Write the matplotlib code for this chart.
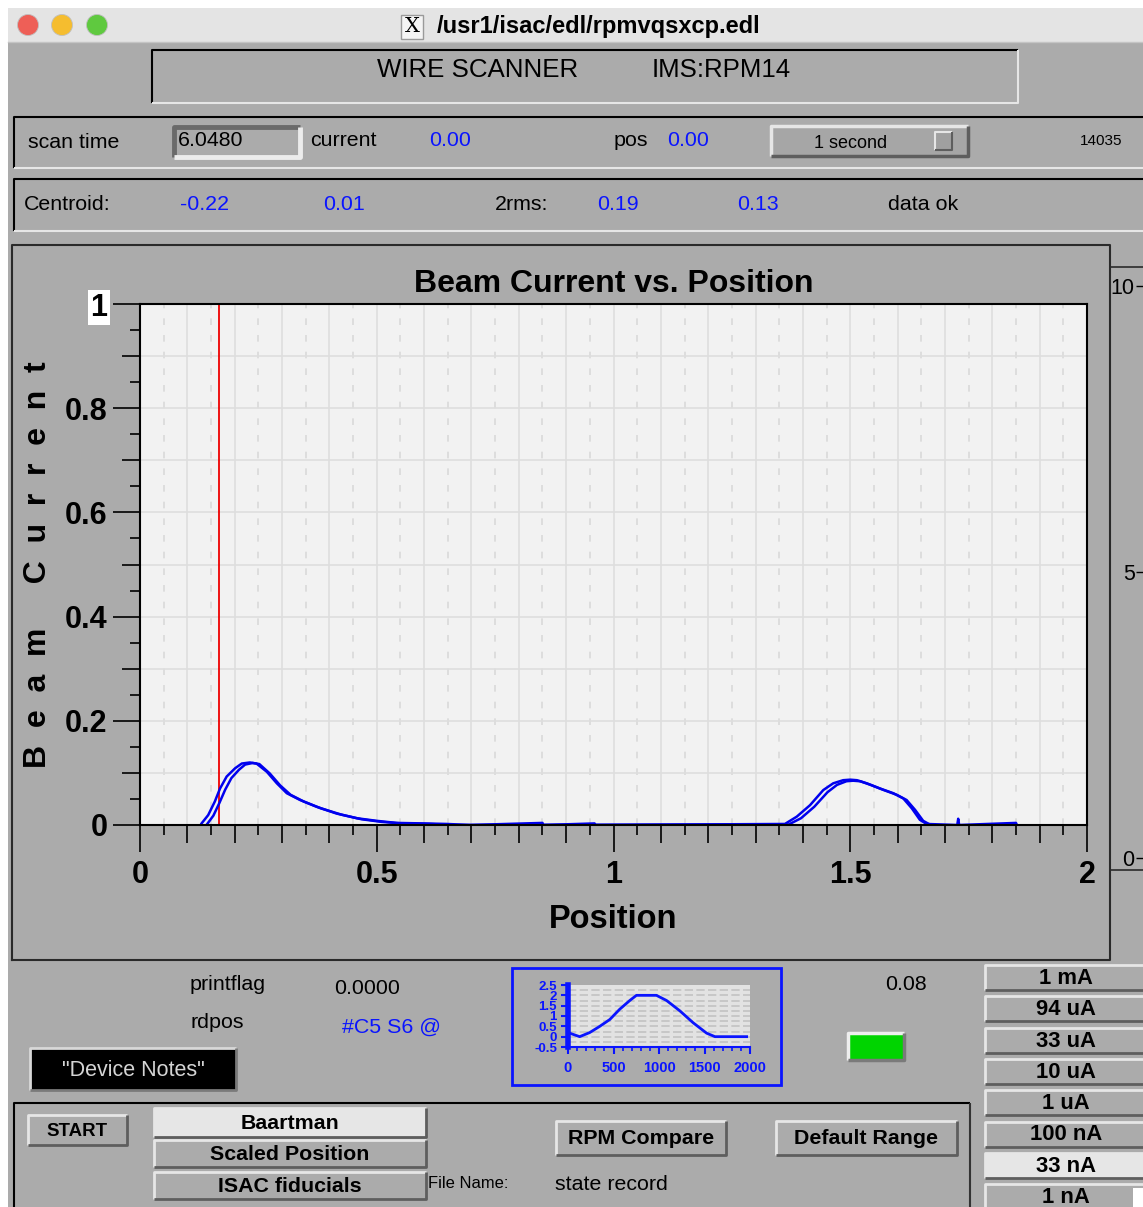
import matplotlib.pyplot as plt
import numpy as np
from matplotlib.patches import Rectangle, Circle

W, H = 1143, 1207

# wire scan: two passes of the wire over the beam (outbound / return)
scan_pos_a = [0.130, 0.144, 0.158, 0.169, 0.183, 0.201, 0.215, 0.232, 0.246, 0.268,
              0.289, 0.310, 0.338, 0.373, 0.415, 0.458, 0.500, 0.542, 0.600, 0.648,
              0.697, 0.850, 0.852, 0.960, 0.962, 1.362, 1.387, 1.415, 1.443, 1.464,
              1.485, 1.500, 1.514, 1.535, 1.563, 1.591, 1.612, 1.630, 1.647, 1.661,
              1.726, 1.728, 1.730, 1.850, 1.852]
scan_cur_a = [0.003, 0.019, 0.045, 0.070, 0.093, 0.109, 0.118, 0.120, 0.118, 0.102,
              0.080, 0.061, 0.048, 0.035, 0.022, 0.013, 0.008, 0.004, 0.003, 0.002,
              0.000, 0.004, 0.000, 0.003, 0.000, 0.002, 0.016, 0.038, 0.067, 0.080,
              0.086, 0.087, 0.086, 0.080, 0.070, 0.061, 0.051, 0.032, 0.010, 0.002,
              0.000, 0.012, 0.000, 0.004, 0.000]
scan_pos_b = [0.142, 0.155, 0.168, 0.180, 0.193, 0.209, 0.222, 0.238, 0.252, 0.274,
              0.296, 0.318, 0.346, 0.382, 0.425, 0.468, 0.510, 0.553, 0.610, 0.660,
              1.370, 1.396, 1.424, 1.452, 1.472, 1.492, 1.506, 1.521, 1.543, 1.571,
              1.598, 1.619, 1.637, 1.654, 1.668]
scan_cur_b = [0.002, 0.018, 0.043, 0.068, 0.090, 0.106, 0.116, 0.119, 0.117, 0.099,
              0.076, 0.058, 0.045, 0.032, 0.020, 0.011, 0.006, 0.003, 0.002, 0.000,
              0.001, 0.013, 0.035, 0.063, 0.077, 0.084, 0.085, 0.084, 0.077, 0.067,
              0.058, 0.048, 0.029, 0.008, 0.001]
cursor_pos = 0.167

# wire drive profile (small trend plot)
drive_t = [0, 18, 128, 239, 349, 459, 569, 679, 752, 972, 1083, 1229, 1376, 1523, 1615, 1963]
drive_v = [0.2, 0.17, 0.0, 0.2, 0.5, 0.83, 1.33, 1.75, 2.0, 2.0, 1.75, 1.25, 0.67, 0.17, 0.0, 0.0]

x_major = [0, 0.5, 1, 1.5, 2]
x_major_labels = ['0', '0.5', '1', '1.5', '2']
y_major = [0, 0.2, 0.4, 0.6, 0.8, 1]
y_major_labels = ['0', '0.2', '0.4', '0.6', '0.8', '1']

range_buttons = ['1 mA', '94 uA', '33 uA', '10 uA', '1 uA', '100 nA', '33 nA', '1 nA']
range_selected = '33 nA'

GRAY = '#ababab'
LIGHT = '#e6e6e6'
DARK = '#5e5e5e'
BLUE = '#0a14ff'
SANS = ['Liberation Sans', 'DejaVu Sans']

fig = plt.figure(figsize=(W / 100, H / 100), dpi=100)
fig.patch.set_facecolor('white')

bg = fig.add_axes([0, 0, 1, 1])
bg.set_xlim(0, W)
bg.set_ylim(H, 0)
bg.axis('off')


def px_axes(x0, y0, x1, y1):
    return fig.add_axes([x0 / W, 1 - y1 / H, (x1 - x0) / W, (y1 - y0) / H])


def frame(x0, y0, x1, y1, tl, br, lw=1.5, face=None):
    if face is not None:
        bg.add_patch(Rectangle((x0, y0), x1 - x0, y1 - y0, facecolor=face, edgecolor='none'))
    bg.plot([x0, x0, x1], [y1, y0, y0], color=tl, lw=lw, solid_capstyle='butt')
    bg.plot([x0, x1, x1], [y1, y1, y0], color=br, lw=lw, solid_capstyle='butt')


def button(x0, y0, x1, y1, label, face=GRAY, size=15.4, weight='bold'):
    frame(x0, y0, x1, y1, LIGHT, DARK, lw=2, face=face)
    bg.text((x0 + x1) / 2, (y0 + y1) / 2 + 1, label, ha='center', va='center',
            fontsize=size, fontweight=weight, family=SANS)


def label(x, y, s, size=15.4, color='black', ha='left', weight='normal'):
    bg.text(x, y, s, ha=ha, va='center', fontsize=size, color=color,
            family=SANS, fontweight=weight)


# window body and title bar
bg.add_patch(Rectangle((8, 42), W - 8, H - 42, facecolor=GRAY, edgecolor='none'))
bg.add_patch(Rectangle((8, 8), W - 8, 34, facecolor='#e4e4e4', edgecolor='none'))
bg.plot([8, W], [42, 42], color='#c4c4c4', lw=1)
for cx, col in zip([28, 62, 97], ['#ee5f57', '#f5bd2f', '#5fc93f']):
    bg.add_patch(Circle((cx, 25), 10.5, facecolor=col, edgecolor='#c0c0c0', lw=0.6))
bg.add_patch(Rectangle((401, 15), 22, 24, facecolor='#f4f4f4', edgecolor='#9a9a9a', lw=1))
bg.text(412, 27, 'X', ha='center', va='center', fontsize=15, family='DejaVu Serif')
label(437, 26, '/usr1/isac/edl/rpmvqsxcp.edl', size=17, weight='bold')

# header
frame(152, 50, 1018, 103, 'black', LIGHT)
label(478, 70, 'WIRE SCANNER', size=18.6, ha='center')
label(721, 70, 'IMS:RPM14', size=18.6, ha='center')

# scan row
frame(14, 117, W + 5, 168, 'black', LIGHT)
label(28, 142, 'scan time')
frame(174, 127, 300, 157, '#6a6a6a', '#ececec', lw=3.5)
label(178, 140, '6.0480')
label(310, 140, 'current')
label(429, 140, '0.00', color=BLUE)
label(614, 141, 'pos')
label(667, 140, '0.00', color=BLUE)
frame(771, 126, 968, 156, LIGHT, DARK, lw=2.5, face='#a6a6a6')
label(851, 143, '1 second', size=13, ha='center')
frame(935, 132, 952, 150, LIGHT, DARK, lw=1.5, face='#a0a0a0')
label(1101, 141, '14035', size=11, ha='center')

# centroid row
frame(14, 179, W + 5, 231, 'black', LIGHT)
label(24, 204, 'Centroid:')
label(180, 205, '-0.22', color=BLUE)
label(323, 205, '0.01', color=BLUE)
label(495, 204, '2rms:')
label(597, 205, '0.19', color=BLUE)
label(737, 205, '0.13', color=BLUE)
label(888, 204, 'data ok')

# plot panel border
bg.plot([12, 12, 1110, 1110, 12], [960, 245, 245, 960, 960], color='#2a2a2a', lw=1.5)
bg.plot([1111, W], [267, 267], color='#2a2a2a', lw=1.2)
bg.plot([1111, W], [870, 870], color='#2a2a2a', lw=1.2)

# main plot
ax = px_axes(140, 304, 1087, 825)
ax.set_facecolor('#f2f2f2')
ax.set_xlim(0, 2)
ax.set_ylim(0, 1)

x_mid = [v for v in np.round(np.arange(0.1, 2.0, 0.1), 2) if v not in x_major]
x_min = np.round(np.arange(0.05, 2.0, 0.1), 2)
y_mid = [0.1, 0.3, 0.5, 0.7, 0.9]
y_min = np.round(np.arange(0.05, 1.0, 0.1), 2)

for v in np.round(np.arange(0.1, 2.0, 0.1), 2):
    ax.axvline(v, color='#dedede', lw=1.2, zorder=0)
for v in x_min:
    ax.axvline(v, color='#d9d9d9', lw=1.2, ls=(0, (4, 6)), zorder=0)
for v in np.round(np.arange(0.1, 1.0, 0.1), 2):
    ax.axhline(v, color='#dedede', lw=1.2, zorder=0)

ax.plot(scan_pos_a, scan_cur_a, color='#0000ee', lw=1.8, zorder=2.2)
ax.plot(scan_pos_b, scan_cur_b, color='#0000ee', lw=1.8, zorder=2.2)
ax.axvline(cursor_pos, color='#ee0000', lw=1.3, zorder=2.1)

ax.set_xticks(x_major, x_major_labels)
ax.set_xticks(x_min, minor=True)
ax.set_yticks(y_major, y_major_labels)
ax.set_yticks(y_min, minor=True)
ax.tick_params(which='major', length=19.5, width=1.2, direction='out', colors='black')
ax.tick_params(which='minor', length=7, width=1.2, direction='out')
ax.tick_params(axis='x', which='major', pad=6)
ax.tick_params(axis='y', which='major', pad=4)
for t in ax.get_xticklabels() + ax.get_yticklabels():
    t.set_fontfamily(SANS)
    t.set_fontweight('bold')
    t.set_fontsize(22)
ax.get_yticklabels()[-1].set_bbox(dict(facecolor='white', edgecolor='none', pad=1.5))

sec_x = ax.secondary_xaxis('bottom')
sec_x.set_xticks(x_mid)
sec_x.tick_params(length=13, width=1.2, labelbottom=False)
sec_x.spines['bottom'].set_visible(False)
sec_y = ax.secondary_yaxis('left')
sec_y.set_yticks(y_mid)
sec_y.tick_params(length=13, width=1.2, labelleft=False)
sec_y.spines['left'].set_visible(False)

for sp in ax.spines.values():
    sp.set_color('black')
    sp.set_linewidth(1.5)

ax.set_title('Beam Current vs. Position', fontsize=23, fontweight='bold', family=SANS, pad=9)
ax.set_xlabel('Position', fontsize=23.5, fontweight='bold', family=SANS, labelpad=10)
ax.set_ylabel('B  e  a  m     C  u  r  r  e  n  t', fontsize=23, fontweight='bold',
              family=SANS, labelpad=8)

# right-hand scale of the neighbouring trend
rax = px_axes(W, 286, W + 60, 858)
rax.set_ylim(0, 10)
rax.set_yticks([0, 5, 10])
rax.set_xticks([])
rax.patch.set_visible(False)
for sp in rax.spines.values():
    sp.set_visible(False)
rax.tick_params(axis='y', length=5, width=1, pad=1, labelsize=15.5)
for t in rax.get_yticklabels():
    t.set_fontfamily(SANS)

# lower controls
label(190, 984, 'printflag')
label(334, 988, '0.0000')
label(190, 1022, 'rdpos')
label(342, 1027, '#C5 S6 @', color=BLUE)
frame(30, 1048, 236, 1090, '#d8d8d8', '#7a7a7a', lw=2, face='black')
label(133, 1070, '"Device Notes"', size=15.5, color='#d4d4d4', ha='center')
label(885, 985, '0.08')
frame(848, 1033, 904, 1060, '#eeeeee', '#7a7a7a', lw=2.5, face='#00d400')

# drive profile box
bg.add_patch(Rectangle((512, 968), 269, 117, facecolor='none', edgecolor=BLUE, lw=2))
mini = px_axes(568, 985, 750, 1047)
mini.set_facecolor('#e2e2e2')
mini.set_xlim(0, 2000)
mini.set_ylim(-0.5, 2.5)
for v in np.arange(-0.25, 2.5, 0.25):
    mini.axhline(v, color='#c2c2c2', lw=1.2, ls=(0, (5, 2)), zorder=0)
mini.plot(drive_t, drive_v, color=BLUE, lw=2)
mini.set_xticks([0, 500, 1000, 1500, 2000])
mini.set_xticks(np.arange(0, 2001, 100), minor=True)
mini.set_yticks(np.arange(-0.5, 2.6, 0.5), ['-0.5', '0', '0.5', '1', '1.5', '2', '2.5'])
mini.tick_params(colors=BLUE, width=1.5, length=5, pad=3)
mini.tick_params(axis='x', pad=5)
mini.tick_params(which='minor', colors=BLUE, width=1.2, length=3)
for t in mini.get_xticklabels():
    t.set_fontsize(10.5)
for t in mini.get_yticklabels():
    t.set_fontsize(9.5)
for t in mini.get_xticklabels() + mini.get_yticklabels():
    t.set_fontfamily(SANS)
    t.set_fontweight('bold')
    t.set_color(BLUE)
mini.spines['left'].set_color(BLUE)
mini.spines['left'].set_linewidth(4)
mini.spines['bottom'].set_color(BLUE)
mini.spines['bottom'].set_linewidth(1.5)
mini.spines['top'].set_visible(False)
mini.spines['right'].set_visible(False)

# range selector column
for i, name in enumerate(range_buttons):
    top = 965 + i * 31.3
    face = LIGHT if name == range_selected else GRAY
    button(985, top, W + 4, top + 25, name, face=face, size=15.8)
bg.add_patch(Rectangle((1133, 1188), 12, 20, facecolor='white', edgecolor='none'))

# bottom control panel
frame(14, 1103, 970, H + 5, 'black', '#333333')
button(28, 1115, 127, 1145, 'START', size=13.4)
button(154, 1108, 426, 1137, 'Baartman', face=LIGHT)
button(154, 1140, 426, 1167, 'Scaled Position')
button(154, 1172, 426, 1199, 'ISAC fiducials')
label(428, 1183, 'File Name:', size=11.9)
label(555, 1184, 'state record')
button(556, 1121, 726, 1155, 'RPM Compare')
button(776, 1121, 957, 1155, 'Default Range')

fig.savefig('out.png', dpi=100, facecolor=fig.get_facecolor())
